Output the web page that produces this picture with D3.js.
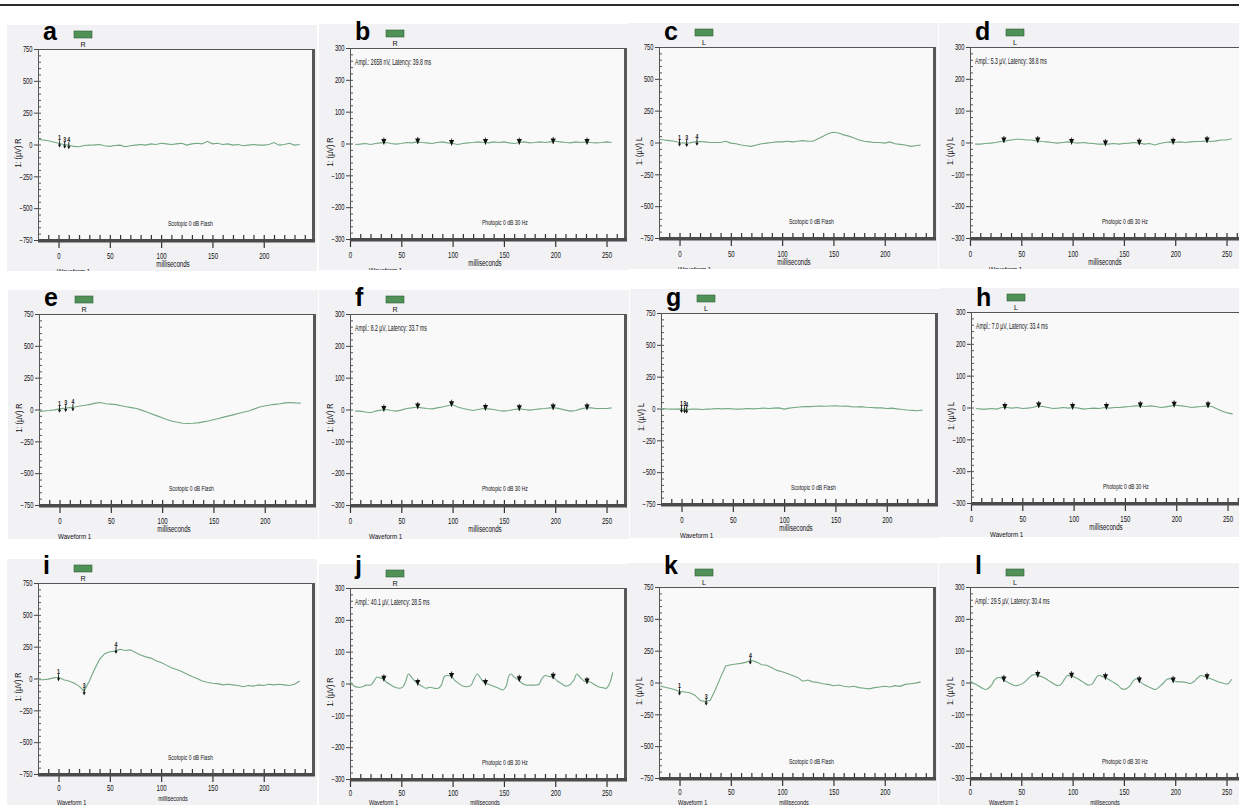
<!DOCTYPE html>
<html><head><meta charset="utf-8">
<script src="https://cdnjs.cloudflare.com/ajax/libs/d3/7.8.5/d3.min.js"></script>
<style>body{margin:0;background:#fff}svg{display:block}</style>
</head><body>
<svg id="fig" width="1239" height="805"></svg>
<script>
// ---------------- DATA ----------------
const panelLetters = ["a","b","c","d","e","f","g","h","i","j","k","l"];
const panelEyes    = ["R","R","L","L","R","R","L","L","R","R","L","L"];
const scotopicTitle = "Scotopic  0 dB Flash";
const photopicTitle = "Photopic  0 dB 30 Hz";
const amplTexts = [null,"Ampl.: 2658 nV, Latency: 39.8 ms",null,"Ampl.: 5.3 µV, Latency: 38.8 ms",
                   null,"Ampl.: 8.2 µV, Latency: 33.7 ms",null,"Ampl.: 7.0 µV, Latency: 33.4 ms",
                   null,"Ampl.: 40.1 µV, Latency: 28.5 ms",null,"Ampl.: 29.5 µV, Latency: 30.4 ms"];
const scotopicYTicks = [-750,-500,-250,0,250,500,750];
const photopicYTicks = [-300,-200,-100,0,100,200,300];
const scotopicXTicks = [0,50,100,150,200];
const photopicXTicks = [0,50,100,150,200,250];

const scotopicMs = [-20,-15,-10,-5,0,5,10,15,20,25,30,35,40,45,50,55,60,65,70,75,80,85,90,95,100,105,110,115,120,125,130,135,140,145,150,155,160,165,170,175,180,185,190,195,200,205,210,215,220,225,230,235];
const photopicMs = [5,10,15,20,25,30,35,40,45,50,55,60,65,70,75,80,85,90,95,100,105,110,115,120,125,130,135,140,145,150,155,160,165,170,175,180,185,190,195,200,205,210,215,220,225,230,235,240,245,250,255];

const waveA = [40,35,30,20,10,0,-5,-15,-18,-8,-5,-3,0,-10,-15,-8,-5,-18,-10,-5,0,-5,5,0,10,5,0,5,10,-5,5,10,5,25,5,10,0,5,-5,0,-10,-5,0,-5,-5,0,15,-5,0,10,-5,0];
const waveC = [25,20,15,10,0,-5,-3,5,8,5,0,0,0,10,-5,-10,-20,-25,-30,-20,-10,-5,0,5,5,10,5,10,15,10,10,30,50,70,80,75,60,50,35,20,10,5,0,0,-5,5,-10,-15,-20,-30,-25,-20];
const waveE = [-18,-12,-8,-3,5,10,15,20,28,33,40,50,55,45,42,38,30,22,15,8,-5,-20,-35,-50,-65,-80,-92,-100,-108,-110,-108,-105,-97,-90,-80,-70,-60,-50,-40,-30,-20,-10,5,20,28,35,40,45,52,55,52,50];
const waveG = [0,-3,-5,-5,-3,-8,-5,-5,-8,-5,-3,0,-3,0,-3,-5,-3,0,-3,0,3,0,3,5,-5,3,8,12,15,15,18,20,18,20,22,18,20,15,12,15,10,8,5,5,0,3,-3,-8,-12,-15,-18,-12];
const waveI = [-10,-10,-5,5,10,-10,-20,-35,-60,-100,-20,70,150,195,210,215,230,220,225,205,185,170,160,140,125,105,85,70,55,35,15,0,-20,-30,-37,-40,-50,-45,-50,-55,-65,-55,-60,-50,-55,-45,-50,-45,-50,-55,-45,-20];
const waveK = [-25,-35,-45,-55,-70,-75,-80,-100,-140,-150,-140,-55,40,130,140,145,150,160,175,160,140,135,115,95,85,70,55,40,10,20,5,0,-10,-15,-25,-20,-30,-35,-30,-40,-45,-50,-40,-35,-30,-35,-25,-30,-15,-10,-5,5];

const waveB = [-3,-2,0,-3,0,2,3,0,-2,0,3,2,5,3,2,0,3,5,2,0,-3,0,2,3,5,3,2,5,3,5,2,0,3,5,2,3,5,3,5,7,5,3,2,5,3,5,3,2,3,5,3];
const waveD = [-5,-5,-3,-2,0,3,5,8,10,10,8,8,5,3,2,0,-2,0,2,0,-2,0,-2,-3,-5,-5,-5,-3,-5,-3,-2,0,-2,-5,-3,-8,-3,0,2,0,2,0,2,3,3,5,3,5,8,8,12];
const waveF = [-5,-5,-8,-10,-5,-2,0,-3,-5,-2,3,5,8,5,3,2,5,8,12,15,8,3,0,-3,0,3,2,0,-3,-5,-3,0,2,0,-2,0,2,3,5,5,2,-2,-5,-3,2,5,5,3,3,3,5];
const waveH = [-3,-5,-5,-3,-5,0,0,-2,0,-3,-2,0,5,3,0,-3,-2,0,-2,0,-2,-5,-3,-2,-3,0,-2,0,0,2,3,5,5,3,5,3,0,2,5,7,5,3,0,2,3,5,3,-5,-12,-17,-20];

const timeJ = [0,4,8,12,16,20,23,26,29,33,36,40,44,48,51,54,57,60,63,66,70,74,78,82,86,89,92,95,99,102,106,110,114,118,121,124,127,130,133,137,141,145,149,152,155,157,160,164,168,172,176,180,184,187,190,194,198,202,206,210,214,218,221,224,228,231,234,238,242,246,250,253,256];
const waveJ = [7,-8,-12,-10,-5,-5,5,20,18,13,3,-5,-12,-15,-12,5,30,20,8,0,-8,-15,-12,-15,-15,-5,22,25,22,10,0,-8,-10,-5,15,30,18,5,0,-5,-10,-15,-20,-10,25,30,20,12,0,-5,-5,-5,-3,15,25,22,20,8,0,-8,-5,10,30,20,8,5,5,-3,-10,-13,-15,0,35];
const timeL = [0,4,8,12,15,18,21,24,27,30,33,36,40,44,48,52,56,60,63,66,70,74,78,82,86,89,92,95,99,103,107,111,115,119,122,125,128,132,136,140,144,148,152,156,159,162,165,169,173,177,181,185,189,192,195,199,203,207,211,215,219,222,225,229,232,236,240,244,248,251,255];
const waveL = [5,-3,-10,-18,-22,-18,-8,8,15,15,8,2,-5,-10,-8,-2,10,22,25,22,18,12,3,-5,-10,-5,10,22,20,15,8,0,-8,-5,10,22,20,15,8,0,-8,-20,-20,-10,5,12,5,-5,-12,-18,-22,-12,0,10,12,5,2,2,0,-3,5,15,22,18,15,10,5,0,-3,-5,10];

const flickerMs = [33,66,99,132,165,198,231];
const markB = [3,5,0,3,3,5,3];
const markD = [5,5,0,-5,-2,0,5];
const markF = [0,8,15,3,2,5,5];
const markH = [0,5,0,0,5,7,5];
const markJ = [13,0,22,0,12,20,5];
const markL = [8,22,20,15,5,5,15];

const peakLabels = ["1","3","4"];
const peakMsA = [1,6,10],  peakValA = [8,0,-5];
const peakMsC = [0,7,17],  peakValC = [0,-4,6];
const peakMsE = [0,6,13],  peakValE = [5,11,18];
const peakMsG = [0,3,5],   peakValG = [-3,-6,-8];
const peakMsI = [0,25,56], peakValI = [10,-100,225];
const peakMsK = [0,26,69], peakValK = [-70,-150,172];

// ---------------- LAYOUT ----------------
const PW = 275, PH = 191;
const plotOrigin = [[38,49],[350,48],[659,47],[970,47],
                    [39,314],[350,314],[661,313],[971,312],
                    [38,583],[350,588],[659,587],[970,587]];
const letterBaseline = [40,306,574];
const clipBelow = [31,34,40];
const FONT = "'Liberation Sans', Arial, Helvetica, sans-serif";
const TRACE = "#74a883";
const INK = "#111";

const traces = [
  {t: scotopicMs, v: waveA}, {t: photopicMs, v: waveB}, {t: scotopicMs, v: waveC}, {t: photopicMs, v: waveD},
  {t: scotopicMs, v: waveE}, {t: photopicMs, v: waveF}, {t: scotopicMs, v: waveG}, {t: photopicMs, v: waveH},
  {t: scotopicMs, v: waveI}, {t: timeJ, v: waveJ, smooth: true}, {t: scotopicMs, v: waveK}, {t: timeL, v: waveL, smooth: true}
];
const marks = [
  {t: peakMsA, v: peakValA}, {t: flickerMs, v: markB}, {t: peakMsC, v: peakValC}, {t: flickerMs, v: markD},
  {t: peakMsE, v: peakValE}, {t: flickerMs, v: markF}, {t: peakMsG, v: peakValG}, {t: flickerMs, v: markH},
  {t: peakMsI, v: peakValI}, {t: flickerMs, v: markJ}, {t: peakMsK, v: peakValK}, {t: flickerMs, v: markL}
];

const svg = d3.select("#fig");
svg.append("rect").attr("width",1239).attr("height",805).attr("fill","#fff");
svg.append("line").attr("x1",0).attr("x2",1239).attr("y1",5).attr("y2",5)
   .attr("stroke","#2a2a2a").attr("stroke-width",2);
const defs = svg.append("defs");
const overlay = svg.append("g");

function ctext(parent, x, y, str, size, sx, anchor, weight) {
  return parent.append("text")
    .attr("transform", `translate(${x},${y}) scale(${sx},1)`)
    .attr("text-anchor", anchor || "start")
    .style("font-family", FONT).style("font-size", size + "px")
    .style("font-weight", weight || "normal")
    .attr("fill", INK).text(str);
}

panelLetters.forEach((letter, i) => {
  const [L, T] = plotOrigin[i];
  const row = Math.floor(i / 4);
  const lastRow = row === 2;
  const scot = i % 2 === 0;
  const B = T + PH, R = L + PW;

  defs.append("clipPath").attr("id", "clip" + i).append("rect")
    .attr("x", L - 31).attr("y", T - 24).attr("width", 310).attr("height", PH + 24 + clipBelow[row]);
  const g = svg.append("g").attr("clip-path", `url(#clip${i})`);

  // panel background & plot area
  g.append("rect").attr("x", L - 31).attr("y", T - 24).attr("width", 310).attr("height", PH + 24 + clipBelow[row])
    .attr("fill", "#f2f2f5");
  g.append("rect").attr("x", L).attr("y", T).attr("width", PW).attr("height", PH).attr("fill", "#f9f9fa");

  const x = d3.scaleLinear().domain(scot ? [-20, 248] : [0, 268]).range([L, R]);
  const y = d3.scaleLinear().domain(scot ? [-750, 750] : [-300, 300]).range([B, T]);

  // minor y ticks (inside)
  const yMinor = g.append("g").attr("transform", `translate(${L},0)`)
    .call(d3.axisLeft(y).tickValues(scot ? d3.range(-750, 751, 50) : d3.range(-300, 301, 20)).tickSize(-3).tickFormat(""));
  yMinor.select(".domain").remove();
  yMinor.selectAll("line").attr("stroke", "#555");
  // major y ticks
  const yMajor = g.append("g").attr("transform", `translate(${L},0)`)
    .call(d3.axisLeft(y).tickValues(scot ? scotopicYTicks : photopicYTicks).tickSize(4).tickPadding(1));
  yMajor.select(".domain").remove();
  yMajor.selectAll("line").attr("stroke", "#444");
  yMajor.selectAll("text").attr("x", -5.5 / 0.68).attr("transform", "scale(0.68,1)")
    .style("font-family", FONT).style("font-size", "8.5px").attr("fill", INK);

  // minor x ticks (inside)
  const xMinor = g.append("g").attr("transform", `translate(0,${B})`)
    .call(d3.axisBottom(x).tickValues(scot ? d3.range(-10, 241, 10) : d3.range(10, 261, 10)).tickSize(-5).tickFormat(""));
  xMinor.select(".domain").remove();
  xMinor.selectAll("line").attr("stroke", "#333").attr("stroke-width", 1.2);
  // major x ticks
  const xMajor = g.append("g").attr("transform", `translate(0,${B})`)
    .call(d3.axisBottom(x).tickValues(scot ? scotopicXTicks : photopicXTicks).tickSize(8).tickPadding(lastRow ? 2 : 4));
  xMajor.select(".domain").remove();
  xMajor.selectAll("line").attr("stroke", "#333").attr("stroke-width", 1.2);
  xMajor.selectAll("text").attr("transform", "scale(0.64,1)")
    .style("font-family", FONT).style("font-size", "9.5px").attr("fill", INK);

  // frame: thin top/left, heavy right/bottom
  g.append("line").attr("x1", L).attr("x2", R).attr("y1", T + 0.5).attr("y2", T + 0.5).attr("stroke", "#555");
  g.append("line").attr("x1", L + 0.5).attr("x2", L + 0.5).attr("y1", T).attr("y2", B).attr("stroke", "#555");
  g.append("rect").attr("x", R - 1).attr("y", T).attr("width", 3).attr("height", PH + 2).attr("fill", "#585858");
  g.append("rect").attr("x", L).attr("y", B - 1).attr("width", PW + 2).attr("height", 3.5).attr("fill", "#4a4a4a");

  // waveform
  const tr = traces[i];
  const pts = tr.t.map((t, k) => [t, tr.v[k]]);
  g.append("path").datum(pts)
    .attr("d", d3.line().x(d => x(d[0])).y(d => y(d[1])).curve(tr.smooth ? d3.curveCatmullRom : d3.curveLinear))
    .attr("fill", "none").attr("stroke", TRACE).attr("stroke-width", 1.1);

  // markers
  const mk = marks[i];
  mk.t.forEach((t, k) => {
    const mx = x(t), my = y(mk.v[k]);
    if (scot) {
      ctext(g, mx, my - 3, peakLabels[k], 6.5, 0.8, "middle", "bold");
      g.append("line").attr("x1", mx).attr("x2", mx).attr("y1", my - 3).attr("y2", my + 3).attr("stroke", "#111").attr("stroke-width", 0.9);
      g.append("path").attr("d", `M${mx-1.6},${my+1} L${mx+1.6},${my+1} L${mx},${my+4} Z`).attr("fill", "#111");
    } else {
      g.append("path").attr("d", `M${mx-2.6},${my-3.5} L${mx+2.6},${my-3.5} L${mx},${my+2} Z`).attr("fill", "#111");
      g.append("line").attr("x1", mx).attr("x2", mx).attr("y1", my - 5).attr("y2", my + 2).attr("stroke", "#111").attr("stroke-width", 0.8);
    }
  });

  // texts
  g.append("rect").attr("x", L + 36).attr("y", T - 18).attr("width", 18).attr("height", 7)
    .attr("fill", "#4f9156").attr("stroke", "#2f5f36").attr("stroke-width", 0.6);
  ctext(g, L + 45, T - 2, panelEyes[i], 8, 0.9, "middle");
  if (!scot) ctext(g, L + 5, T + 17, amplTexts[i], 8.5, 0.6, "start");
  ctext(g, L + (scot ? 130 : 132), T + 177, scot ? scotopicTitle : photopicTitle, 8, 0.63, "start");
  if (lastRow) {
    ctext(g, L + 135, Math.min(B + 27, 804.5), "milliseconds", 8, 0.68, "middle");
    ctext(g, L + 19, 805, "Waveform  1", 7, 0.78, "start");
  } else {
    ctext(g, L + 135, B + 27, "milliseconds", 9, 0.68, "middle");
    ctext(g, L + 19, B + 34, "Waveform  1", 8, 0.78, "start");
  }
  g.append("text")
    .attr("transform", `translate(${L - 17},${T + 104}) rotate(-90) scale(0.85,1)`)
    .attr("text-anchor", "middle").style("font-family", FONT).style("font-size", "8.5px")
    .attr("fill", INK).text("1: (µV) " + panelEyes[i]);

  // panel letter, unclipped
  ctext(overlay, L + 5, letterBaseline[row], letter, 25, 1, "start", "bold").attr("fill", "#000");
});
overlay.raise();
</script>
</body></html>
